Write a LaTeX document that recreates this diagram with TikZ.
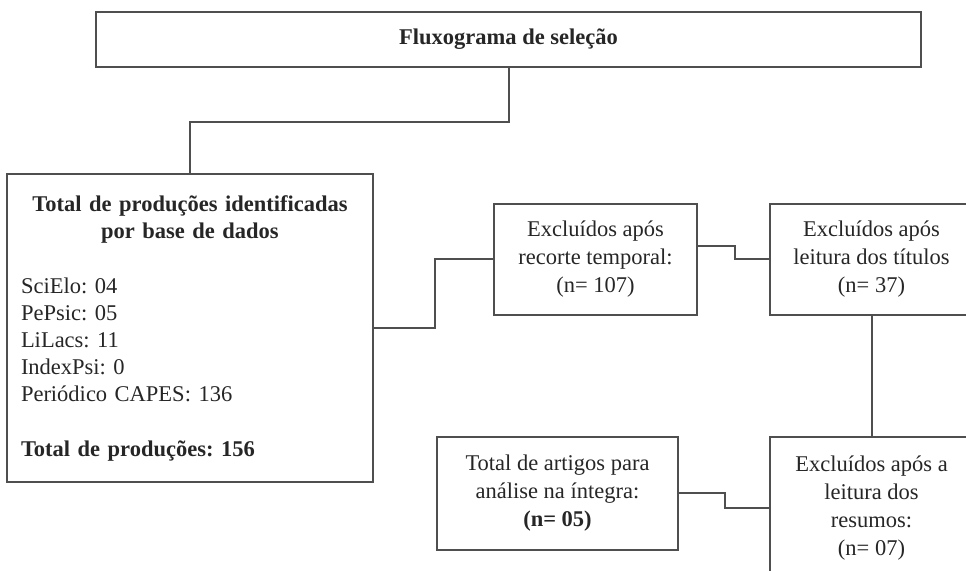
\documentclass[tikz,border=0pt]{standalone}
\usepackage{fontspec}
\setmainfont{Liberation Serif}
\frenchspacing
\usetikzlibrary{calc,positioning}
\definecolor{ink}{HTML}{262626}
\definecolor{rule}{HTML}{4F4F4F}
\tikzset{
  headbox/.style={
    draw=rule,
    line width=1pt,
    minimum width=412.5pt,
    minimum height=27.5pt,
    text=ink,
    font=\bfseries\fontsize{11.25}{13.5}\selectfont
  },
  sourcebox/.style={
    draw=rule,
    line width=1pt,
    minimum width=183pt,
    minimum height=154pt,
    inner xsep=7pt,
    text width=169pt,
    align=left,
    text=ink,
    font=\fontsize{11.25}{13.5}\selectfont
  },
  stagebox/.style={
    draw=rule,
    line width=1pt,
    minimum width=101.5pt,
    minimum height=55.5pt,
    align=center,
    text=ink,
    font=\fontsize{11.25}{14}\selectfont
  },
  link/.style={
    draw=rule,
    line width=1pt
  }
}

\begin{document}
\begin{tikzpicture}[x=0.5pt,y=-0.5pt]
  \useasboundingbox (0,0) rectangle (966,571);
  \clip (0,0) rectangle (966,571);

  \node[headbox] (head) at (508.5,39.5) {Fluxograma de seleção};

  \node[sourcebox] (sources) at (190,328) {%
    {\centering\bfseries Total de produções identificadas\\por base de dados\par}
    \vspace{14pt}
    SciElo: 04\\PePsic: 05\\LiLacs: 11\\IndexPsi: 0\\Periódico CAPES: 136\par
    \vspace{14pt}
    {\bfseries Total de produções: 156}};

  \node[stagebox] (period) at (595.5,259.5)
    {Excluídos após\\recorte temporal:\\(n= 107)};
  \node[stagebox] (titles) at (871.5,259.5)
    {Excluídos após\\leitura dos títulos\\(n= 37)};
  \node[stagebox, minimum height=71pt] (abstracts) at (871.5,508.5)
    {Excluídos após a\\leitura dos\\resumos:\\(n= 07)};
  \node[stagebox, minimum width=120.5pt, minimum height=56.5pt] (selected) at (557.5,493.5)
    {Total de artigos para\\análise na íntegra:\\\textbf{(n= 05)}};

  % connectors
  \draw[link] (head.south) -- ++(0,-27pt) -| (sources.north);
  \draw[link] (sources.east) -- ++(30.5pt,0) |- (period.west);
  \draw[link] ([yshift=6.75pt]period.east) -- ++(18.5pt,0) |- (titles.west);
  \draw[link] (titles.south) -- (titles.south |- abstracts.north);
  \draw[link] (selected.east) -- ++(23pt,0) |- (abstracts.west);
\end{tikzpicture}
\end{document}
